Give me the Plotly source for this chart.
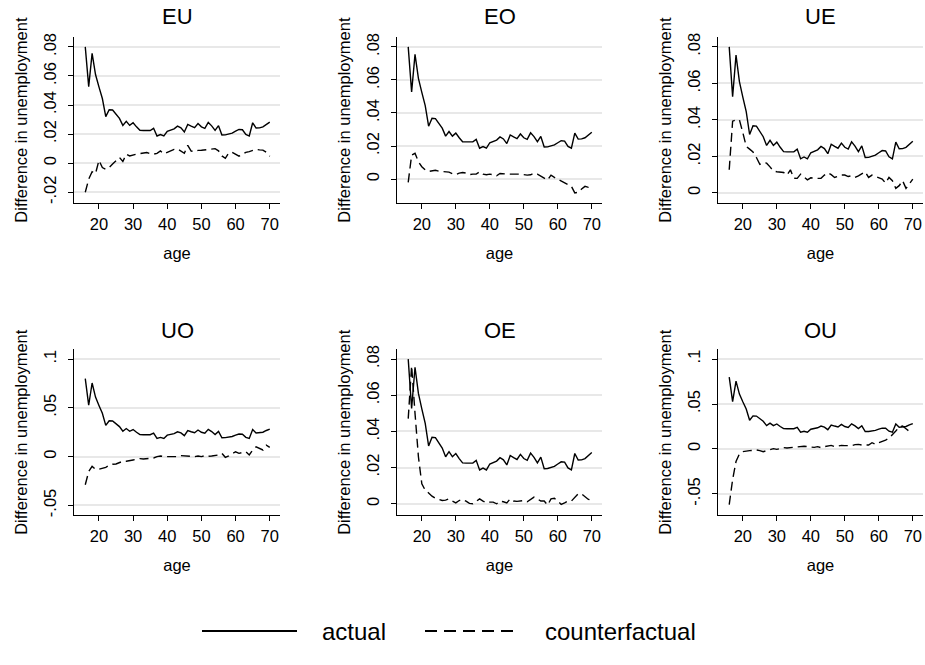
import plotly.graph_objects as go

# ---------------- data ----------------
ages = list(range(16, 71))

actual = [0.0800, 0.0527, 0.0755, 0.0610, 0.0525, 0.0445, 0.0320, 0.0368, 0.0366, 0.0333,
          0.0308, 0.0260, 0.0288, 0.0260, 0.0278, 0.0250, 0.0226, 0.0225, 0.0227, 0.0225,
          0.0240, 0.0187, 0.0197, 0.0187, 0.0220, 0.0227, 0.0236, 0.0255, 0.0243, 0.0215,
          0.0267, 0.0255, 0.0245, 0.0273, 0.0250, 0.0240, 0.0280, 0.0257, 0.0226, 0.0258,
          0.0194, 0.0195, 0.0200, 0.0207, 0.0220, 0.0232, 0.0230, 0.0198, 0.0187, 0.0278,
          0.0242, 0.0243, 0.0250, 0.0268, 0.0283]

cf_EU = [-0.0200, -0.0110, -0.0058, -0.0072, 0.0020, -0.0030, -0.0042, -0.0030, -0.0005, 0.0020,
         0.0040, 0.0012, 0.0062, 0.0050, 0.0058, 0.0062, 0.0066, 0.0070, 0.0073, 0.0065,
         0.0062, 0.0068, 0.0084, 0.0064, 0.0075, 0.0086, 0.0095, 0.0098, 0.0080, 0.0068,
         0.0123, 0.0084, 0.0080, 0.0088, 0.0089, 0.0092, 0.0097, 0.0095, 0.0100, 0.0085,
         0.0050, 0.0034, 0.0070, 0.0075, 0.0060, 0.0048, 0.0060, 0.0075, 0.0080, 0.0089,
         0.0095, 0.0092, 0.0090, 0.0075, 0.0048]

cf_EO = [-0.0020, 0.0145, 0.0156, 0.0105, 0.0075, 0.0055, 0.0046, 0.0050, 0.0053, 0.0048,
         0.0045, 0.0044, 0.0042, 0.0033, 0.0027, 0.0036, 0.0040, 0.0036, 0.0027, 0.0030,
         0.0030, 0.0044, 0.0030, 0.0026, 0.0030, 0.0026, 0.0020, 0.0034, 0.0031, 0.0030,
         0.0030, 0.0028, 0.0030, 0.0030, 0.0026, 0.0024, 0.0026, 0.0036, 0.0030, 0.0020,
         0.0006, -0.0006, 0.0024, 0.0010, 0.0000, -0.0010, -0.0024, -0.0030, -0.0044, -0.0084,
         -0.0080, -0.0060, -0.0044, -0.0050, -0.0040]

cf_UE = [0.0127, 0.0393, 0.0400, 0.0400, 0.0330, 0.0255, 0.0240, 0.0224, 0.0194, 0.0157,
         0.0167, 0.0163, 0.0143, 0.0120, 0.0116, 0.0116, 0.0112, 0.0098, 0.0127, 0.0081,
         0.0080, 0.0103, 0.0085, 0.0072, 0.0083, 0.0080, 0.0080, 0.0080, 0.0098, 0.0110,
         0.0100, 0.0085, 0.0090, 0.0098, 0.0098, 0.0090, 0.0094, 0.0085, 0.0094, 0.0103,
         0.0116, 0.0085, 0.0098, 0.0090, 0.0085, 0.0076, 0.0054, 0.0085, 0.0067, 0.0025,
         0.0040, 0.0067, 0.0025, 0.0050, 0.0076]

cf_UO = [-0.0288, -0.0153, -0.0100, -0.0129, -0.0129, -0.0119, -0.0110, -0.0090, -0.0078, -0.0075,
         -0.0058, -0.0047, -0.0047, -0.0044, -0.0034, -0.0027, -0.0020, -0.0024, -0.0020, -0.0017,
         -0.0014, 0.0000, 0.0007, 0.0000, 0.0000, -0.0007, -0.0007, 0.0000, 0.0010, 0.0007,
         0.0010, 0.0003, 0.0000, 0.0007, 0.0000, 0.0010, 0.0003, 0.0007, 0.0010, 0.0017,
         0.0034, -0.0007, 0.0007, 0.0027, 0.0050, 0.0034, 0.0040, 0.0050, 0.0017, 0.0068,
         0.0100, 0.0085, 0.0068, 0.0118, 0.0095]

cf_OE = [0.0471, 0.0763, 0.0500, 0.0260, 0.0110, 0.0075, 0.0060, 0.0042, 0.0030, 0.0024,
         0.0018, 0.0020, 0.0027, 0.0015, 0.0005, 0.0018, 0.0024, 0.0015, 0.0002, 0.0000,
         0.0015, 0.0027, 0.0015, 0.0005, 0.0009, 0.0009, 0.0000, 0.0015, 0.0011, 0.0005,
         0.0027, 0.0015, 0.0013, 0.0015, 0.0018, 0.0011, 0.0024, 0.0037, 0.0027, 0.0015,
         0.0015, -0.0007, 0.0027, 0.0030, 0.0015, -0.0004, 0.0005, 0.0015, 0.0015, 0.0033,
         0.0055, 0.0055, 0.0038, 0.0024, 0.0020]

cf_OU = [-0.0618, -0.0340, -0.0140, -0.0055, -0.0030, -0.0022, -0.0018, -0.0015, -0.0011, -0.0018,
         -0.0030, -0.0018, -0.0004, 0.0004, -0.0004, 0.0007, 0.0015, 0.0011, 0.0015, 0.0022,
         0.0026, 0.0033, 0.0030, 0.0026, 0.0022, 0.0018, 0.0026, 0.0015, 0.0026, 0.0033,
         0.0040, 0.0026, 0.0033, 0.0040, 0.0037, 0.0033, 0.0037, 0.0048, 0.0051, 0.0044,
         0.0040, 0.0044, 0.0070, 0.0051, 0.0070, 0.0081, 0.0099, 0.0120, 0.0155, 0.0200,
         0.0245, 0.0255, 0.0225, 0.0195, 0.0180]

panel_names = ["EU", "EO", "UE", "UO", "OE", "OU"]
counterfactuals = [cf_EU, cf_EO, cf_UE, cf_UO, cf_OE, cf_OU]

x_ticks = [20, 30, 40, 50, 60, 70]
y_ticks_EU = [-0.02, 0, 0.02, 0.04, 0.06, 0.08]
y_labels_EU = ["-.02", "0", ".02", ".04", ".06", ".08"]
y_ticks_pos = [0, 0.02, 0.04, 0.06, 0.08]
y_labels_pos = ["0", ".02", ".04", ".06", ".08"]
y_ticks_wide = [-0.05, 0, 0.05, 0.1]
y_labels_wide = ["-.05", "0", ".05", ".1"]

x_title = "age"
y_title = "Difference in unemployment"
legend_names = ["actual", "counterfactual"]

# ---------------- layout helpers ----------------
W, H = 925, 665
FONT = "Liberation Sans, Arial, Helvetica, sans-serif"
PAD = "\u00a0\u00a0\u00a0"

col_px = [(74, 280), (397, 602), (718, 923)]
row_px = [(33.3, 201), (348.3, 516)]
y_ranges = [(-0.0275, 0.0868), (-0.0146, 0.0860), (-0.0056, 0.0854),
            (-0.0602, 0.1102), (-0.0064, 0.0855), (-0.0738, 0.1110)]
y_tick_sets = [(y_ticks_EU, y_labels_EU), (y_ticks_pos, y_labels_pos), (y_ticks_pos, y_labels_pos),
               (y_ticks_wide, y_labels_wide), (y_ticks_pos, y_labels_pos), (y_ticks_wide, y_labels_wide)]
title_px = [12.5, 329.5]

fig = go.Figure()
layout = dict(
    width=W, height=H, margin=dict(l=0, r=0, t=0, b=0),
    paper_bgcolor="white", plot_bgcolor="white",
    font=dict(family=FONT, color="black", size=16),
    showlegend=True,
    legend=dict(orientation="h", x=197 / W, xanchor="left", y=1 - 633 / H, yanchor="middle",
                font=dict(size=24, family=FONT), itemwidth=95,
                entrywidthmode="pixels", bgcolor="rgba(0,0,0,0)"),
    annotations=[],
)

for i, name in enumerate(panel_names):
    r, c = divmod(i, 3)
    k = "" if i == 0 else str(i + 1)
    xa, ya = "x" + k, "y" + k
    x0, x1 = col_px[c]
    yt, yb = row_px[r]
    fig.add_trace(go.Scatter(x=ages, y=actual, mode="lines", name=legend_names[0],
                             line=dict(color="black", width=1.4),
                             xaxis=xa, yaxis=ya, showlegend=False))
    fig.add_trace(go.Scatter(x=ages, y=counterfactuals[i], mode="lines", name=legend_names[1],
                             line=dict(color="black", width=1.4, dash="9px,5px"),
                             xaxis=xa, yaxis=ya, showlegend=False))
    tv, tt = y_tick_sets[i]
    layout["xaxis" + k] = dict(
        domain=[x0 / W, x1 / W], anchor=ya, range=[12.7, 73.0],
        tickvals=x_ticks, ticks="outside", ticklen=5, tickwidth=1, tickcolor="black",
        showline=True, linecolor="black", linewidth=1, showgrid=False, zeroline=False,
        tickfont=dict(size=16.5, family=FONT), ticklabelstandoff=1,
        title=dict(text=x_title, font=dict(size=16.5, family=FONT), standoff=15),
    )
    layout["yaxis" + k] = dict(
        domain=[1 - yb / H, 1 - yt / H], anchor=xa, range=list(y_ranges[i]),
        tickvals=tv, ticktext=tt, tickangle=-90, ticks="outside", ticklen=5, tickwidth=1,
        tickcolor="black", showline=True, linecolor="black", linewidth=1,
        showgrid=True, gridcolor="#e8e8e8", gridwidth=1.5, zeroline=False,
        tickfont=dict(size=16.5, family=FONT), ticklabelstandoff=5,
        title=dict(text=y_title, font=dict(size=16.5, family=FONT), standoff=9),
    )
    layout["annotations"].append(dict(
        text=name, x=(x0 + x1) / 2 / W, y=1 - title_px[r] / H, xref="paper", yref="paper",
        xanchor="center", yanchor="middle", showarrow=False, font=dict(size=22, family=FONT)))

# legend-only entries (no data drawn), styled like the reference key
fig.add_trace(go.Scatter(x=[None], y=[None], mode="lines", name=PAD + legend_names[0],
                         line=dict(color="black", width=2), legendwidth=113, legendrank=1))
fig.add_trace(go.Scatter(x=[None], y=[None], mode="lines", name=PAD + legend_names[1],
                         line=dict(color="black", width=2, dash="12px,7px"),
                         legendwidth=200, legendrank=2))

fig.update_layout(**layout)
fig.write_html("out.html", config={"displayModeBar": False},
               post_script="document.body.style.margin='0';")
